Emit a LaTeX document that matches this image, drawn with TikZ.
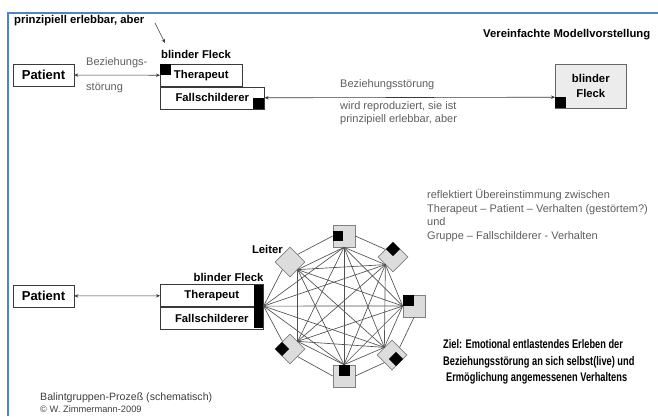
\documentclass[tikz,border=0pt]{standalone}
\usepackage{fontspec}
\setmainfont{Liberation Sans}
\newfontfamily\narrowfont[FakeStretch=0.74]{Liberation Sans}
\usetikzlibrary{positioning,arrows.meta}
\definecolor{frameBlue}{HTML}{4A86C8}
\definecolor{txtGray}{HTML}{5E5E5E}
\definecolor{creditGray}{HTML}{3E3E3E}
\definecolor{netGray}{HTML}{DCDCDC}
\definecolor{netLine}{HTML}{505050}
\definecolor{boxLine}{HTML}{3A3A3A}
\definecolor{spotFill}{HTML}{ECECEC}
\tikzset{
  lblBold/.style={
    font=\bfseries\fontsize{11.3pt}{13pt}\selectfont,
    inner sep=0pt
  },
  lblGray/.style={
    font=\fontsize{11pt}{13.5pt}\selectfont,
    text=txtGray,
    inner sep=0pt,
    align=left
  },
  roleBox/.style={
    draw=boxLine,
    line width=0.6pt,
    inner sep=0pt,
    minimum height=22pt,
    font=\bfseries\fontsize{11.3pt}{13pt}\selectfont
  },
  patBox/.style={
    roleBox,
    minimum width=61pt,
    font=\bfseries\fontsize{13pt}{15pt}\selectfont
  },
  spot/.style={
    fill=black,
    inner sep=0pt,
    minimum size=11pt
  },
  spotDia/.style={
    spot,
    minimum size=10pt,
    rotate=45
  },
  grpSq/.style={
    draw=gray,
    fill=netGray,
    line width=0.6pt,
    inner sep=0pt,
    minimum size=22pt
  },
  grpDia/.style={
    grpSq,
    minimum size=21pt,
    rotate=45
  },
  relArrow/.style={
    line width=0.6pt,
    draw=boxLine,
    {Stealth[length=4pt,width=3.5pt]}-{Stealth[length=4pt,width=3.5pt]}
  },
  netEdge/.style={
    draw=netLine,
    line width=0.65pt
  }
}

\begin{document}
\begin{tikzpicture}[x=1pt,y=1pt]
  \useasboundingbox (0,0) rectangle (658,416);
  \draw[frameBlue, line width=2pt] (8,0) -- (8,403) -- (658,403);

  % upper part: simple model
  \node (hint) [lblBold, anchor=west] at (14,395) {prinzipiell erlebbar, aber};
  \node (bf1) [lblBold, anchor=west] at (161,362) {blinder Fleck};
  \coordinate (hintStart) at (155,393);
  \coordinate (hintEnd) at (165,373);
  \draw[line width=0.6pt, draw=boxLine, -{Stealth[length=4pt,width=3.5pt]}] (hintStart) -- (hintEnd);

  \node (pat1) [patBox] at (43.5,341) {Patient};
  \node (th1) [roleBox, minimum width=82pt, anchor=north west] at (160,352) {Therapeut};
  \node (fs1) [roleBox, minimum width=104pt, anchor=north west] at (th1.south west) {Fallschilderer};
  \node (bs1) [spot, anchor=north west] at (th1.north west) {};
  \node (bs2) [spot, anchor=south east] at (fs1.south east) {};
  \node (bf2) [roleBox, minimum width=71pt, minimum height=44pt, fill=spotFill,
    draw=gray!80!black, align=center, font=\bfseries\fontsize{11.3pt}{15pt}\selectfont,
    anchor=north west] at (555,352) {blinder\\Fleck};
  \node (bs3) [spot, anchor=south west] at (bf2.south west) {};

  \draw[relArrow] (pat1) -- (th1);
  \draw[relArrow] (bs2.north east) -- (bs3.north west);

  \node (bz1) [lblGray, anchor=west] at (86,353) {Beziehungs-};
  \node (bz2) [lblGray, anchor=west] at (86,328) {störung};
  \node (bz3) [lblGray, anchor=west] at (340,331) {Beziehungsstörung};
  \node (bz4) [lblGray, anchor=west, font=\fontsize{11pt}{13pt}\selectfont] at (340,302.5)
    {wird reproduziert, sie ist\\prinzipiell erlebbar, aber};
  \node (title) [lblBold, anchor=west] at (483,381) {Vereinfachte Modellvorstellung};

  % lower part: Balint group
  \node (pat2) [patBox] at (43.5,120) {Patient};
  \node (th2) [roleBox, minimum width=103pt, anchor=south west] at (160,109) {Therapeut};
  \node (fs2) [roleBox, minimum width=103pt, anchor=north west] at (th2.south west) {Fallschilderer};
  \node (bar) [fill=black, inner sep=0pt, minimum width=9pt, minimum height=43pt, anchor=north east] at (th2.north east) {};
  \node (bf3) [lblBold, above=3pt of bar.north east, anchor=south east] {blinder Fleck};
  \draw[relArrow] (pat2) -- (th2);

  \node (lei) [grpDia] at (290,154) {};
  \node (gTop) [grpSq] at (344,180) {};
  \node (gUR) [grpDia] at (393,159) {};
  \node (gR) [grpSq] at (414,110) {};
  \node (gLR) [grpDia] at (392,61) {};
  \node (gB) [grpSq] at (344,40) {};
  \node (gLL) [grpDia] at (290,67) {};
  \node (leiLbl) [lblBold, anchor=east] at (283,167) {Leiter};

  \node (sTop) [spot, minimum size=10pt, anchor=west] at (gTop.west) {};
  \node (sUR) [spotDia, anchor=north east] at (gUR.north east) {};
  \node (sR) [spot, anchor=north west] at (gR.north west) {};
  \node (sLR) [spotDia, anchor=south] at (gLR.south) {};
  \node (sB) [spot, anchor=north] at (gB.north) {};
  \node (sLL) [spotDia, anchor=north west] at (gLL.north west) {};

  % outer ring
  \draw[netEdge] (bar.east) -- (lei.west);
  \draw[netEdge] (lei.east) -- (gTop.west);
  \draw[netEdge] (gTop.east) -- (gUR.north);
  \draw[netEdge] (gR.south) -- (gLR.east);
  \draw[netEdge] (gLR.west) -- (gB.east);
  \draw[netEdge] (gB.west) -- (gLL.south);
  \draw[netEdge] (gLL.north) -- (bar.east);

  % everyone with everyone
  \foreach \a/\b in {bar.east/gTop.south, bar.east/gUR.west, bar.east/gR.west, bar.east/gLR.north, bar.east/gB.north,
      lei.south/gTop.south, lei.south/gUR.west, lei.south/gR.west, lei.south/gLR.north, lei.south/gB.north, lei.south/gLL.east,
      gTop.south/gUR.west, gTop.south/gR.west, gTop.south/gLR.north, gTop.south/gB.north, gTop.south/gLL.east,
      gUR.west/gR.west, gUR.west/gLR.north, gUR.west/gB.north, gUR.west/gLL.east,
      gR.west/gLR.north, gR.west/gB.north, gR.west/gLL.east,
      gLR.north/gB.north, gLR.north/gLL.east,
      gB.north/gLL.east}
    \draw[netEdge] (\a) -- (\b);

  \node (refl) [lblGray, anchor=west] at (427,200.5)
    {reflektiert Übereinstimmung zwischen\\Therapeut – Patient – Verhalten (gestörtem?)\\und\\Gruppe – Fallschilderer - Verhalten};
  \node (goal) [anchor=west, inner sep=0pt, align=left,
    font=\narrowfont\bfseries\fontsize{12.5pt}{16.5pt}\selectfont] at (443,54)
    {Ziel: Emotional entlastendes Erleben der\\Beziehungsstörung an sich selbst(live) und\\\hspace{3pt}Ermöglichung angemessenen Verhaltens};

  \node (credit1) [anchor=west, inner sep=0pt, text=creditGray, font=\fontsize{10.6pt}{12pt}\selectfont] at (40,18)
    {Balintgruppen-Prozeß (schematisch)};
  \node (credit2) [below=2pt of credit1.south west, anchor=north west, inner sep=0pt, text=creditGray,
    font=\fontsize{9.3pt}{11pt}\selectfont] {© W. Zimmermann-2009};
\end{tikzpicture}
\end{document}
